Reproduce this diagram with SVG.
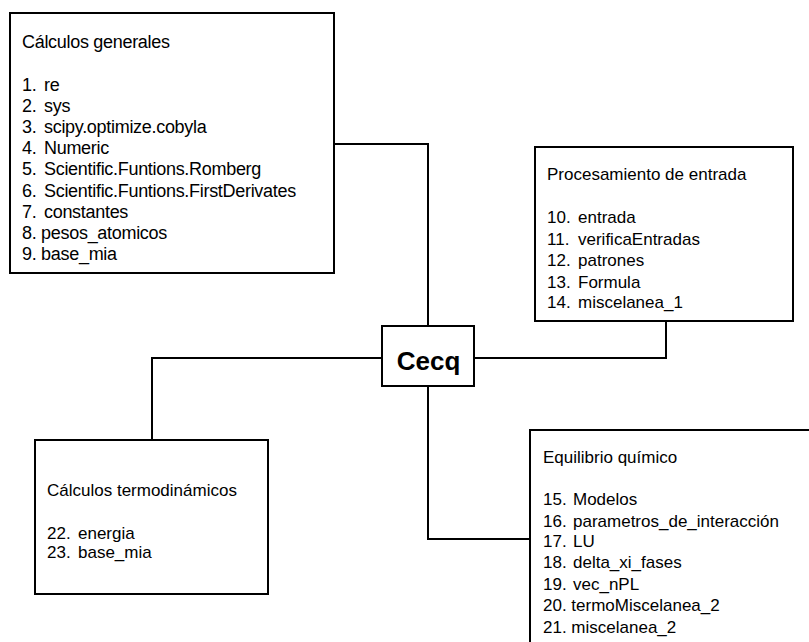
<svg xmlns="http://www.w3.org/2000/svg" width="809" height="642" viewBox="0 0 809 642">
<style>
.box{fill:#fff;stroke:#000;stroke-width:2}
.t{font-family:"Liberation Sans",Arial,sans-serif;font-size:17px;fill:#000}
.g{font-size:18px;letter-spacing:-0.3px}
.c{font-family:"Liberation Sans",Arial,sans-serif;font-size:26px;font-weight:bold;fill:#000}
.ln{fill:none;stroke:#000;stroke-width:2}
</style>
<rect width="809" height="642" fill="#fff"/>
<g id="connectors">
<polyline class="ln" points="334,144 428,144 428,326"/>
<polyline class="ln" points="474,358 666,358 666,321"/>
<polyline class="ln" points="382,358 152,358 152,440"/>
<polyline class="ln" points="428,386 428,539 530,539"/>
</g>
<g id="calculos-generales">
<rect class="box" x="10" y="13" width="324" height="260"/>
<text class="t g" x="22" y="48">Cálculos generales</text>
<text class="t g" x="22" y="91">1.</text><text class="t g" x="44" y="91">re</text>
<text class="t g" x="22" y="112">2.</text><text class="t g" x="44" y="112">sys</text>
<text class="t g" x="22" y="133">3.</text><text class="t g" x="44" y="133">scipy.optimize.cobyla</text>
<text class="t g" x="22" y="154">4.</text><text class="t g" x="44" y="154">Numeric</text>
<text class="t g" x="22" y="175">5.</text><text class="t g" x="44" y="175">Scientific.Funtions.Romberg</text>
<text class="t g" x="22" y="197">6.</text><text class="t g" x="44" y="197">Scientific.Funtions.FirstDerivates</text>
<text class="t g" x="22" y="218">7.</text><text class="t g" x="44" y="218">constantes</text>
<text class="t g" x="22" y="239">8. pesos_atomicos</text>
<text class="t g" x="22" y="260">9. base_mia</text>
</g>
<g id="procesamiento">
<rect class="box" x="535" y="147" width="258" height="174"/>
<text class="t" x="547" y="180">Procesamiento de entrada</text>
<text class="t" x="547" y="223">10.</text><text class="t" x="578" y="223">entrada</text>
<text class="t" x="547" y="245">11.</text><text class="t" x="578" y="245">verificaEntradas</text>
<text class="t" x="547" y="266">12.</text><text class="t" x="578" y="266">patrones</text>
<text class="t" x="547" y="288">13.</text><text class="t" x="578" y="288">Formula</text>
<text class="t" x="547" y="308">14.</text><text class="t" x="578" y="308">miscelanea_1</text>
</g>
<g id="cecq">
<rect class="box" x="382" y="326" width="92" height="60"/>
<text class="c" x="428.5" y="369.5" text-anchor="middle">Cecq</text>
</g>
<g id="calculos-termodinamicos">
<rect class="box" x="35" y="440" width="233" height="154"/>
<text class="t" x="47" y="496">Cálculos termodinámicos</text>
<text class="t" x="47" y="539">22.</text><text class="t" x="78" y="539">energia</text>
<text class="t" x="47" y="558">23.</text><text class="t" x="78" y="558">base_mia</text>
</g>
<g id="equilibrio">
<rect class="box" x="530" y="430" width="300" height="240"/>
<text class="t" x="543" y="463">Equilibrio químico</text>
<text class="t" x="543" y="505">15.</text><text class="t" x="573" y="505">Modelos</text>
<text class="t" x="543" y="527">16.</text><text class="t" x="573" y="527">parametros_de_interacción</text>
<text class="t" x="543" y="547">17.</text><text class="t" x="573" y="547">LU</text>
<text class="t" x="543" y="568">18.</text><text class="t" x="573" y="568">delta_xi_fases</text>
<text class="t" x="543" y="590">19.</text><text class="t" x="573" y="590">vec_nPL</text>
<text class="t" x="543" y="611">20. termoMiscelanea_2</text>
<text class="t" x="543" y="633">21. miscelanea_2</text>
</g>
</svg>
